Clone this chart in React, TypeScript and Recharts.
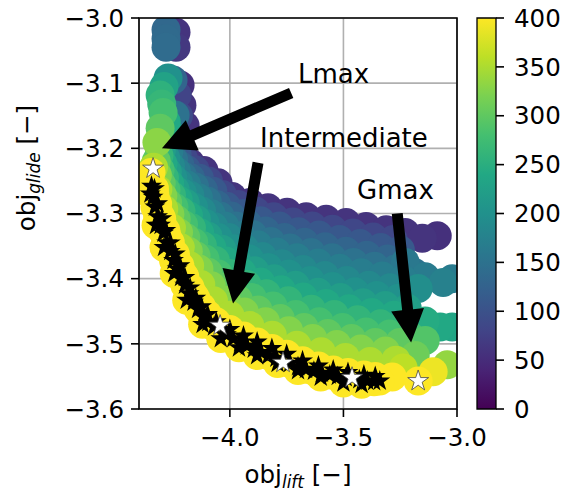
import React from 'react';
import {
  ScatterChart,
  Scatter,
  XAxis,
  YAxis,
  CartesianGrid,
  ReferenceLine,
  ReferenceDot,
  ReferenceArea,
  BarChart,
  Bar,
} from 'recharts';

const FONT = 'DejaVu Sans, sans-serif';

const xTicks = [-4.0, -3.5, -3.0];
const yTicks = [-3.6, -3.5, -3.4, -3.3, -3.2, -3.1, -3.0];
const cbarTicks = [0, 50, 100, 150, 200, 250, 300, 350, 400];

// viridis colormap stops (0 -> 1)
const viridisStops = ['#440154', '#482475', '#414487', '#355f8d', '#2a788e', '#21918c', '#22a884', '#44bf70', '#7ad151', '#bddf26', '#fde725'];

// population cloud, one list per generation band: [obj_lift, obj_glide]
const gen400 = [[-4.347, -3.237], [-4.330, -3.272], [-4.307, -3.303], [-4.277, -3.334], [-4.241, -3.365], [-4.202, -3.395], [-4.158, -3.426], [-4.105, -3.454], [-4.034, -3.477], [-3.946, -3.495], [-3.845, -3.511], [-3.735, -3.528], [-3.625, -3.538], [-3.515, -3.548], [-3.404, -3.554], [-3.285, -3.551]];
const gen350 = [[-4.336, -3.229], [-4.317, -3.263], [-4.291, -3.293], [-4.257, -3.322], [-4.218, -3.352], [-4.177, -3.380], [-4.128, -3.409], [-4.072, -3.434], [-4.000, -3.456], [-3.912, -3.472], [-3.813, -3.487], [-3.705, -3.502], [-3.598, -3.512], [-3.491, -3.521], [-3.383, -3.527], [-3.269, -3.525]];
const gen325 = [[-4.319, -3.241], [-4.295, -3.273], [-4.264, -3.301], [-4.226, -3.329], [-4.183, -3.358], [-4.136, -3.385], [-4.082, -3.411], [-4.016, -3.433], [-3.936, -3.451], [-3.843, -3.466], [-3.741, -3.480], [-3.635, -3.492], [-3.529, -3.501], [-3.424, -3.508], [-3.315, -3.511]];
const gen300 = [[-4.324, -3.220], [-4.302, -3.254], [-4.274, -3.283], [-4.236, -3.309], [-4.194, -3.337], [-4.149, -3.365], [-4.096, -3.390], [-4.037, -3.413], [-3.963, -3.432], [-3.876, -3.448], [-3.778, -3.461], [-3.673, -3.475], [-3.569, -3.484], [-3.464, -3.492], [-3.360, -3.498], [-3.252, -3.498]];
const gen280 = [[-4.307, -3.233], [-4.281, -3.264], [-4.246, -3.290], [-4.204, -3.317], [-4.159, -3.344], [-4.109, -3.370], [-4.051, -3.393], [-3.983, -3.413], [-3.902, -3.429], [-3.810, -3.442], [-3.710, -3.455], [-3.607, -3.466], [-3.504, -3.475], [-3.401, -3.482], [-3.297, -3.485]];
const gen260 = [[-4.312, -3.211], [-4.288, -3.245], [-4.257, -3.272], [-4.215, -3.296], [-4.169, -3.322], [-4.121, -3.349], [-4.064, -3.372], [-4.001, -3.392], [-3.925, -3.409], [-3.839, -3.423], [-3.743, -3.434], [-3.641, -3.447], [-3.540, -3.455], [-3.438, -3.463], [-3.337, -3.469], [-3.235, -3.470]];
const gen240 = [[-4.294, -3.224], [-4.265, -3.254], [-4.227, -3.279], [-4.182, -3.303], [-4.133, -3.329], [-4.079, -3.352], [-4.017, -3.373], [-3.947, -3.390], [-3.865, -3.405], [-3.774, -3.417], [-3.677, -3.428], [-3.576, -3.438], [-3.476, -3.446], [-3.376, -3.452], [-3.277, -3.456]];
const gen220 = [[-4.301, -3.203], [-4.275, -3.236], [-4.241, -3.263], [-4.196, -3.284], [-4.147, -3.309], [-4.096, -3.335], [-4.035, -3.355], [-3.969, -3.373], [-3.891, -3.388], [-3.805, -3.400], [-3.711, -3.410], [-3.612, -3.421], [-3.513, -3.429], [-3.414, -3.437], [-3.316, -3.441], [-3.219, -3.445]];
const gen200 = [[-4.282, -3.215], [-4.251, -3.245], [-4.209, -3.268], [-4.160, -3.290], [-4.109, -3.315], [-4.052, -3.337], [-3.986, -3.354], [-3.913, -3.370], [-3.831, -3.383], [-3.741, -3.393], [-3.646, -3.403], [-3.548, -3.412], [-3.450, -3.420], [-3.353, -3.426], [-3.258, -3.430]];
const gen185 = [[-4.290, -3.195], [-4.261, -3.227], [-4.225, -3.253], [-4.176, -3.272], [-4.124, -3.296], [-4.071, -3.320], [-4.005, -3.337], [-3.936, -3.353], [-3.857, -3.366], [-3.771, -3.377], [-3.678, -3.386], [-3.582, -3.395], [-3.486, -3.403], [-3.389, -3.410], [-3.295, -3.414], [-3.203, -3.419]];
const gen168 = [[-4.269, -3.206], [-4.235, -3.235], [-4.190, -3.256], [-4.138, -3.276], [-4.083, -3.300], [-4.022, -3.319], [-3.952, -3.334], [-3.877, -3.348], [-3.794, -3.359], [-3.705, -3.368], [-3.612, -3.376], [-3.517, -3.384], [-3.422, -3.391], [-3.329, -3.396], [-3.238, -3.401]];
const gen150 = [[-4.278, -3.186], [-4.247, -3.218], [-4.208, -3.242], [-4.155, -3.259], [-4.099, -3.281], [-4.043, -3.304], [-3.973, -3.319], [-3.900, -3.332], [-3.820, -3.343], [-3.735, -3.353], [-3.643, -3.360], [-3.550, -3.368], [-3.456, -3.375], [-3.363, -3.381], [-3.272, -3.385], [-3.186, -3.391]];
const gen130 = [[-4.256, -3.198], [-4.220, -3.226], [-4.173, -3.245], [-4.116, -3.264], [-4.059, -3.286], [-3.994, -3.304], [-3.921, -3.316], [-3.843, -3.327], [-3.760, -3.337], [-3.672, -3.344], [-3.581, -3.351], [-3.489, -3.358], [-3.397, -3.364], [-3.306, -3.370]];
const gen110 = [[-4.266, -3.177], [-4.232, -3.209], [-4.191, -3.232], [-4.134, -3.246], [-4.075, -3.266], [-4.015, -3.289], [-3.941, -3.300], [-3.865, -3.311], [-3.782, -3.319], [-3.698, -3.328], [-3.608, -3.333], [-3.518, -3.340], [-3.427, -3.346], [-3.336, -3.352], [-3.249, -3.356]];
const gen85 = [[-4.243, -3.189], [-4.204, -3.216], [-4.153, -3.233], [-4.094, -3.250], [-4.033, -3.271], [-3.964, -3.286], [-3.887, -3.296], [-3.807, -3.305], [-3.723, -3.313], [-3.637, -3.319], [-3.548, -3.324], [-3.458, -3.330], [-3.369, -3.336], [-3.281, -3.340]];
const gen60 = [[-4.255, -3.169], [-4.219, -3.200], [-4.175, -3.222], [-4.114, -3.234], [-4.052, -3.253], [-3.990, -3.274], [-3.911, -3.283], [-3.832, -3.291], [-3.748, -3.298], [-3.664, -3.305], [-3.576, -3.309], [-3.488, -3.314], [-3.400, -3.320], [-3.312, -3.325], [-3.228, -3.329], [-3.153, -3.338]];

// [obj_lift, obj_glide, generation]
const upperColumn = [[-4.281, -3.018, 135], [-4.281, -3.032, 138], [-4.281, -3.045, 140], [-4.237, -3.022, 60], [-4.237, -3.045, 65], [-4.219, -3.103, 55], [-4.211, -3.134, 60], [-4.197, -3.165, 60], [-4.232, -3.118, 80], [-4.226, -3.150, 90], [-4.250, -3.095, 130], [-4.272, -3.092, 200], [-4.290, -3.105, 230], [-4.307, -3.118, 255], [-4.300, -3.132, 265], [-4.294, -3.145, 280], [-4.307, -3.169, 300], [-4.321, -3.191, 330], [-4.241, -3.149, 150], [-4.255, -3.180, 200], [-4.280, -3.160, 240]];
const rightEdge = [[-3.087, -3.334, 55], [-3.228, -3.375, 160], [-3.140, -3.397, 165], [-3.171, -3.415, 195], [-3.021, -3.400, 165], [-3.061, -3.406, 175], [-3.228, -3.449, 225], [-3.140, -3.465, 245], [-3.074, -3.474, 240], [-3.021, -3.474, 235], [-3.206, -3.488, 280], [-3.140, -3.495, 290], [-3.250, -3.503, 300], [-3.184, -3.518, 310], [-3.043, -3.532, 335], [-3.237, -3.537, 360], [-3.105, -3.543, 390], [-3.171, -3.557, 400]];

// pareto front (black stars)
const paretoLift = [-4.345, -4.338, -4.330, -4.318, -4.305, -4.292, -4.278, -4.262, -4.248, -4.232, -4.215, -4.198, -4.180, -4.160, -4.140, -4.118, -4.095, -4.070, -4.015, -3.985, -3.955, -3.925, -3.895, -3.862, -3.830, -3.795, -3.735, -3.700, -3.665, -3.630, -3.595, -3.560, -3.525, -3.490, -3.430, -3.395, -3.365, -3.340,
  -4.332, -4.318, -4.300, -4.282, -4.262, -4.240, -4.220, -4.198, -4.175, -4.150, -4.125, -4.098, -4.060, -4.000, -3.940, -3.880, -3.815, -3.750, -3.680, -3.610, -3.545, -3.480, -3.410, -3.360,
  -4.350, -4.325, -4.290, -4.245, -4.190, -4.120, -4.040, -3.960, -3.880, -3.790, -3.700, -3.600, -3.500, -3.420];
const paretoGlide = [-3.258, -3.275, -3.290, -3.305, -3.318, -3.330, -3.345, -3.358, -3.372, -3.385, -3.398, -3.410, -3.423, -3.436, -3.447, -3.458, -3.467, -3.474, -3.486, -3.492, -3.498, -3.503, -3.508, -3.513, -3.518, -3.522, -3.530, -3.535, -3.539, -3.542, -3.545, -3.548, -3.550, -3.552, -3.555, -3.557, -3.558, -3.557,
  -3.262, -3.285, -3.308, -3.326, -3.345, -3.362, -3.380, -3.398, -3.414, -3.430, -3.443, -3.455, -3.466, -3.478, -3.488, -3.497, -3.507, -3.516, -3.526, -3.534, -3.540, -3.544, -3.548, -3.550,
  -3.270, -3.318, -3.352, -3.392, -3.433, -3.470, -3.492, -3.506, -3.518, -3.530, -3.541, -3.551, -3.560, -3.562];

// selected designs (white stars)
const selectedLift = [-4.338, -4.043, -3.766, -3.462, -3.171];
const selectedGlide = [-3.231, -3.472, -3.529, -3.552, -3.557];

const annotations = [
  { text: 'Lmax', at: [-3.70, -3.10], tail: [-3.730, -3.115], tip: [-4.299, -3.200] },
  { text: 'Intermediate', at: [-3.867, -3.198], tail: [-3.876, -3.222], tip: [-3.986, -3.438] },
  { text: 'Gmax', at: [-3.440, -3.278], tail: [-3.263, -3.300], tip: [-3.202, -3.498] },
];

const band = (pts: number[][], g: number) => pts.map(([x, y]) => ({ x, y, g }));
const pareto = paretoLift.map((x, i) => ({ x, y: paretoGlide[i] }));
const selected = selectedLift.map((x, i) => ({ x, y: selectedGlide[i] }));

const cloud = [
  ...band(gen60, 60),
  ...band(gen85, 85),
  ...band(gen110, 110),
  ...band(gen130, 130),
  ...band(gen150, 150),
  ...band(gen168, 168),
  ...band(gen185, 185),
  ...band(gen200, 200),
  ...band(gen220, 220),
  ...band(gen240, 240),
  ...band(gen260, 260),
  ...band(gen280, 280),
  ...band(gen300, 300),
  ...band(gen325, 325),
  ...band(gen350, 350),
  ...band(gen400, 400),
  ...upperColumn.map(([x, y, g]) => ({ x, y, g })),
  ...rightEdge.map(([x, y, g]) => ({ x, y, g })),
  ...pareto.map((p) => ({ ...p, g: 400 })),
].sort((a, b) => a.g - b.g);

function viridis(g: number) {
  const t = Math.max(0, Math.min(1, g / 400)) * 10;
  const i = Math.min(9, Math.floor(t));
  const f = t - i;
  const a = viridisStops[i];
  const b = viridisStops[i + 1];
  const ch = (s: string, k: number) => parseInt(s.slice(1 + 2 * k, 3 + 2 * k), 16);
  const c = [0, 1, 2].map((k) => Math.round(ch(a, k) + (ch(b, k) - ch(a, k)) * f));
  return `rgb(${c[0]},${c[1]},${c[2]})`;
}

const fmt = (v: number) => (v < 0 ? '\u2212' : '') + Math.abs(v).toFixed(1);

const CircleShape = (p: any) => <circle cx={p.cx} cy={p.cy} r={14.5} fill={viridis(p.payload.g)} />;

function starPath(cx: number, cy: number, R: number) {
  const pts: string[] = [];
  for (let i = 0; i < 10; i++) {
    const rad = i % 2 === 0 ? R : R * 0.382;
    const a = (-90 + i * 36) * (Math.PI / 180);
    pts.push(`${cx + rad * Math.cos(a)},${cy + rad * Math.sin(a)}`);
  }
  return pts.join(' ');
}

const BlackStar = (p: any) => <polygon points={starPath(p.cx, p.cy, 11)} fill="#000" />;
const WhiteStar = (p: any) => <polygon points={starPath(p.cx, p.cy, 11)} fill="#fff" stroke="#444" strokeWidth={0.8} />;

const ArrowShape = (p: any) => {
  const { x1, y1, x2, y2 } = p;
  const dx = x2 - x1;
  const dy = y2 - y1;
  const L = Math.hypot(dx, dy);
  const ux = dx / L;
  const uy = dy / L;
  const nx = -uy;
  const ny = ux;
  const w = 5.5;
  const hw = 16.5;
  const hl = 33;
  const bx = x2 - ux * hl;
  const by = y2 - uy * hl;
  const pts = [
    [x1 + nx * w, y1 + ny * w],
    [bx + nx * w, by + ny * w],
    [bx + nx * hw, by + ny * hw],
    [x2, y2],
    [bx - nx * hw, by - ny * hw],
    [bx - nx * w, by - ny * w],
    [x1 - nx * w, y1 - ny * w],
  ];
  return <polygon points={pts.map((q) => q.join(',')).join(' ')} fill="#000" />;
};

const XLabel = (props: any) => {
  const vb = props.viewBox;
  return (
    <text x={vb.x + vb.width / 2} y={vb.y + 74} textAnchor="middle" fontFamily={FONT} fontSize={24.5} fill="#000">
      obj<tspan dy={5} fontSize={17} fontStyle="italic">lift</tspan>
      <tspan dy={-5}>{' [\u2212]'}</tspan>
    </text>
  );
};

const YLabel = (props: any) => {
  const vb = props.viewBox;
  const x = vb.x + 35;
  const y = vb.y + 150;
  return (
    <text x={x} y={y} transform={`rotate(-90, ${x}, ${y})`} textAnchor="middle" fontFamily={FONT} fontSize={24.5} fill="#000">
      obj<tspan dy={5} fontSize={17} fontStyle="italic">glide</tspan>
      <tspan dy={-5}>{' [\u2212]'}</tspan>
    </text>
  );
};

const tickStyle = { fontSize: 24.5, fill: '#000', fontFamily: FONT };
const tickLine = { stroke: '#000', strokeWidth: 1.6 };

export default function App() {
  return (
    <div style={{ position: 'absolute', left: 0, top: 0, width: 568, height: 492, background: '#fff' }}>
      <div style={{ position: 'absolute', left: 0, top: 0 }}>
        <ScatterChart width={568} height={492} margin={{ top: 18, right: 111, bottom: 0, left: 0 }}>
          <CartesianGrid stroke="#b0b0b0" strokeWidth={1.6} />
          <XAxis
            dataKey="x"
            type="number"
            domain={[-4.4, -3.0]}
            allowDataOverflow
            ticks={xTicks}
            interval={0}
            tickFormatter={fmt}
            tick={tickStyle}
            tickLine={tickLine}
            axisLine={false}
            tickSize={8}
            tickMargin={12}
            height={83}
            label={{ content: XLabel }}
          />
          <YAxis
            dataKey="y"
            type="number"
            domain={[-3.6, -3.0]}
            allowDataOverflow
            ticks={yTicks}
            interval={0}
            tickFormatter={fmt}
            tick={tickStyle}
            tickLine={tickLine}
            axisLine={false}
            tickSize={8}
            tickMargin={7}
            width={139}
            label={{ content: YLabel }}
          />
          <Scatter data={cloud} shape={CircleShape} isAnimationActive={false} />
          <Scatter data={pareto} shape={BlackStar} isAnimationActive={false} />
          <Scatter data={selected} shape={WhiteStar} isAnimationActive={false} />
          <ReferenceArea
            x1={-4.4}
            x2={-3.0}
            y1={-3.6}
            y2={-3.0}
            fill="none"
            fillOpacity={0}
            stroke="#000"
            strokeWidth={1.6}
            ifOverflow="visible"
            zIndex={1500}
          />
          {annotations.map((a) => (
            <ReferenceLine
              key={'arrow-' + a.text}
              segment={[{ x: a.tail[0], y: a.tail[1] }, { x: a.tip[0], y: a.tip[1] }]}
              shape={ArrowShape}
              ifOverflow="visible"
              zIndex={1600}
            />
          ))}
          {annotations.map((a) => (
            <ReferenceDot
              key={'text-' + a.text}
              x={a.at[0]}
              y={a.at[1]}
              r={0}
              ifOverflow="visible"
              zIndex={1700}
              shape={(p: any) => (
                <text x={p.cx} y={p.cy} fontFamily={FONT} fontSize={26} fill="#000">
                  {a.text}
                </text>
              )}
            />
          ))}
        </ScatterChart>
      </div>
      <div style={{ position: 'absolute', left: 476, top: 0 }}>
        <BarChart
          width={92}
          height={492}
          data={[{ name: 'gen', v: 400 }]}
          margin={{ top: 18, right: 0, bottom: 83, left: 1 }}
          barCategoryGap={0}
        >
          <defs>
            <linearGradient id="viridisBar" x1="0" y1="1" x2="0" y2="0">
              {viridisStops.map((c, i) => (
                <stop key={c} offset={`${i * 10}%`} stopColor={c} />
              ))}
            </linearGradient>
          </defs>
          <XAxis dataKey="name" hide />
          <YAxis
            orientation="right"
            type="number"
            domain={[0, 400]}
            ticks={cbarTicks}
            interval={0}
            tick={tickStyle}
            tickLine={tickLine}
            axisLine={false}
            tickSize={8}
            tickMargin={10}
            width={72}
          />
          <Bar dataKey="v" fill="url(#viridisBar)" stroke="#000" strokeWidth={1.3} isAnimationActive={false} />
        </BarChart>
      </div>
    </div>
  );
}
